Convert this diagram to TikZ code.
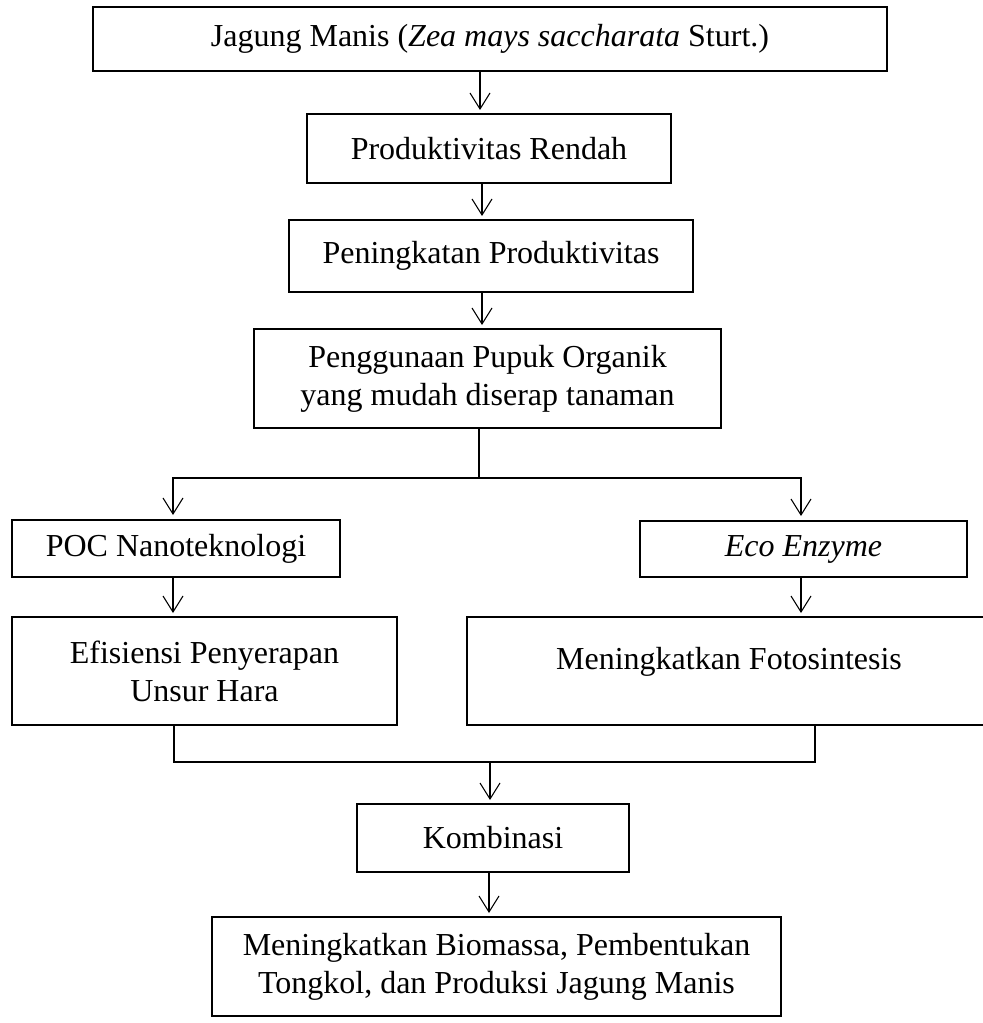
\documentclass[tikz,border=0pt]{standalone}
\usepackage{fontspec}
\setmainfont{Liberation Serif}
\usetikzlibrary{arrows.meta}
\begin{document}
\begin{tikzpicture}[x=0.75pt,y=-0.75pt,
  box/.style={draw,rectangle,line width=1.65pt,inner sep=0pt,outer sep=0pt,
    align=center,font=\fontsize{24}{28.5}\selectfont},
  conn/.style={line width=0.8pt},
  arr/.style={conn,-{Straight Barb[length=12pt,width=15pt,line width=0.8pt]},shorten >=3pt}]
\useasboundingbox (0,0) rectangle (982,1023);
\fill[white] (0,0) rectangle (982,1023);

\node[box,minimum width=595.5pt,minimum height=48pt] (b1) at (490,39)
  {Jagung Manis (\textit{Zea mays saccharata} Sturt.)};
\node[box,minimum width=273pt,minimum height=51.75pt] (b2) at (489,148.5)
  {Produktivitas Rendah};
\node[box,minimum width=303pt,minimum height=54pt] (b3) at (491,256)
  {Peningkatan Produktivitas};
\node[box,minimum width=350.25pt,minimum height=74.25pt] (b4) at (487.5,378.5)
  {Penggunaan Pupuk Organik\\yang mudah diserap tanaman};
\node[box,minimum width=246pt,minimum height=42.75pt] (poc) at (176,548.5)
  {POC Nanoteknologi};
\node[box,minimum width=288.75pt,minimum height=81pt] (efi) at (204.5,671)
  {Efisiensi Penyerapan\\Unsur Hara};
\node[box,minimum width=245.25pt,minimum height=42pt] (eco) at (803.5,549)
  {\textit{Eco Enzyme}};
\node[box,minimum width=393pt,minimum height=81pt] (fot) at (729,671)
  {Meningkatkan Fotosintesis\\[-9pt]\mbox{}};
\node[box,minimum width=204pt,minimum height=51pt] (kom) at (493,838)
  {Kombinasi};
\node[box,minimum width=426.75pt,minimum height=74.25pt] (fin) at (496.5,966.5)
  {Meningkatkan Biomassa, Pembentukan\\Tongkol, dan Produksi Jagung Manis};

\draw[arr] (b1.south -| 480,0) -- (b2.north -| 480,0);
\draw[arr] (b2.south -| 482,0) -- (b3.north -| 482,0);
\draw[arr] (b3.south -| 482,0) -- (b4.north -| 482,0);

\coordinate (j1) at (479,478);
\draw[conn] (b4.south -| j1) -- (j1);
\draw[arr] (j1) -| ([shift={(0,-1)}]poc.north -| 173,0);
\draw[arr] (j1) -| ([shift={(0,-1)}]eco.north -| 801,0);

\draw[arr] (poc.south -| 173,0) -- (efi.north -| 173,0);
\draw[arr] (eco.south -| 801,0) -- (fot.north -| 801,0);

\coordinate (j2) at (490,762);
\draw[conn] (efi.south -| 174,0) |- (j2);
\draw[conn] (fot.south -| 815,0) |- (j2);
\draw[arr] (j2) -- (kom.north -| j2);
\draw[arr] (kom.south -| 489,0) -- (fin.north -| 489,0);
\end{tikzpicture}
\end{document}
